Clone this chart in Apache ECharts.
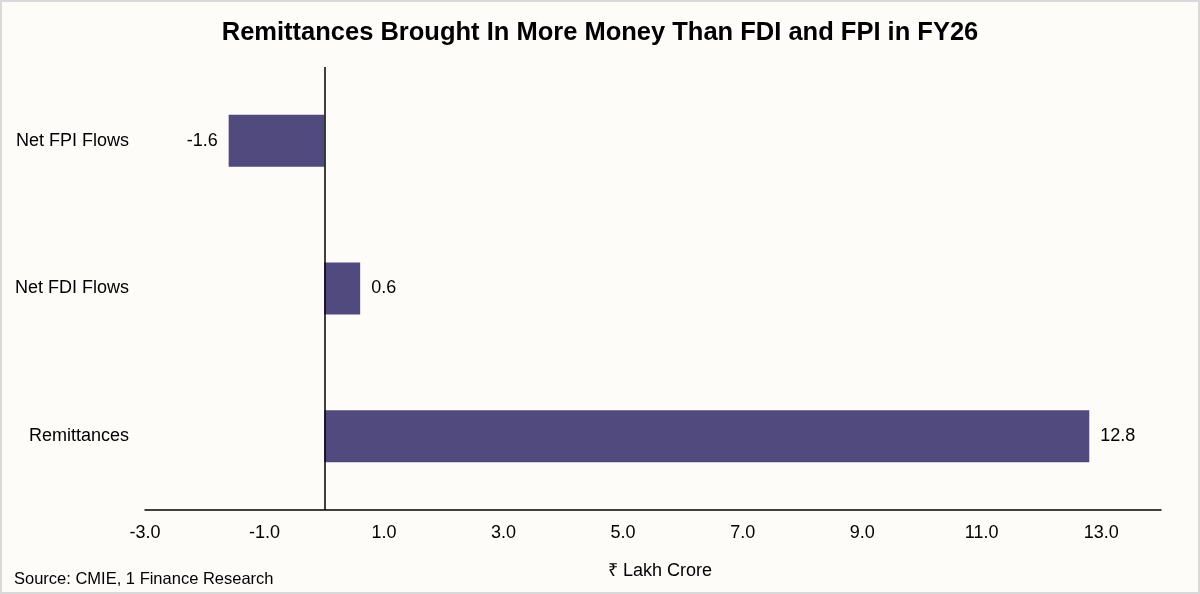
<!DOCTYPE html>
<html>
<head>
<meta charset="utf-8">
<script src="https://cdn.jsdelivr.net/npm/echarts@6/dist/echarts.min.js"></script>
<style>
html,body{margin:0;padding:0;background:#fff;}
#wrap{position:absolute;left:0;top:0;width:1196px;height:590px;border:2px solid #d9d9d9;background:#fdfcf8;}
#chart{width:1196px;height:590px;}
</style>
</head>
<body>
<div id="wrap"><div id="chart"></div></div>
<script>
const categories = ['Net FPI Flows', 'Net FDI Flows', 'Remittances'];
const values = [-1.6, 0.6, 12.8];
const axisMin = -3;
const axisMax = 14;
const tickLabelValues = [-3, -1, 1, 3, 5, 7, 9, 11, 13];

const FONT = '"Liberation Sans", Arial, sans-serif';
const chart = echarts.init(document.getElementById('chart'));
chart.setOption({
  backgroundColor: 'transparent',
  animation: false,
  title: {
    text: 'Remittances Brought In More Money Than FDI and FPI in FY26',
    left: 'center',
    top: 13,
    textStyle: { fontFamily: FONT, fontSize: 25.5, fontWeight: 'bold', color: '#000' }
  },
  grid: { left: 143, right: 37, top: 65, bottom: 82, containLabel: false },
  xAxis: {
    type: 'value',
    min: axisMin,
    max: axisMax,
    interval: 1,
    name: '₹ Lakh Crore',
    nameLocation: 'middle',
    nameGap: 52,
    nameTextStyle: { fontFamily: FONT, fontSize: 18, color: '#000', padding: [0, 0, 0, 14] },
    axisLine: { show: true, onZero: false, lineStyle: { color: '#000', width: 1.5 } },
    axisTick: { show: false },
    splitLine: { show: false },
    axisLabel: {
      fontFamily: FONT, fontSize: 18, color: '#000', margin: 14,
      showMaxLabel: true,
      formatter: function (v) {
        return tickLabelValues.indexOf(Math.round(v)) >= 0 && Math.abs(v - Math.round(v)) < 1e-9 ? v.toFixed(1) : '';
      }
    }
  },
  yAxis: {
    type: 'category',
    data: categories,
    inverse: true,
    axisLine: { show: false, onZero: false },
    axisTick: { show: false },
    splitLine: { show: false },
    axisLabel: { fontFamily: FONT, fontSize: 18, color: '#000', margin: 16 }
  },
  series: [{
    type: 'bar',
    data: values.map(function (v) {
      return { value: v, label: { position: v < 0 ? 'left' : 'right' } };
    }),
    barWidth: 52,
    itemStyle: { color: '#514a7e' },
    label: {
      show: true,
      position: 'right',
      distance: 11,
      fontFamily: FONT, fontSize: 18, color: '#000',
      formatter: function (p) { return p.value.toFixed(1); }
    },
    markLine: {
      silent: true,
      symbol: 'none',
      label: { show: false },
      lineStyle: { color: '#000', width: 1.5, type: 'solid' },
      data: [{ xAxis: 0 }]
    }
  }],
  graphic: [{
    type: 'text',
    left: 12,
    top: 569,
    style: { text: 'Source: CMIE, 1 Finance Research', fontFamily: FONT, fontSize: 16.5, fill: '#000' }
  }]
});
</script>
</body>
</html>
